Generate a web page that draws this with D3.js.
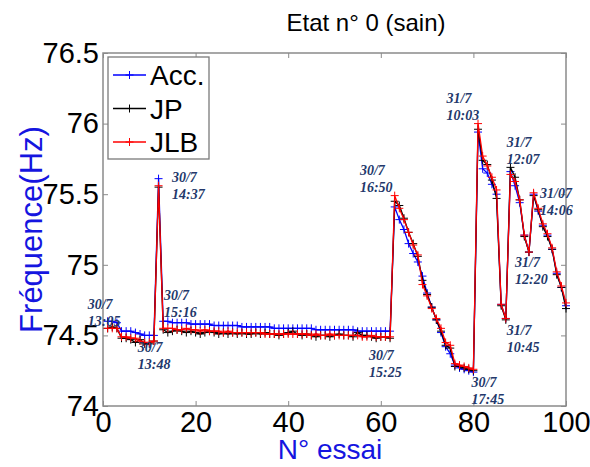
<!DOCTYPE html>
<html><head><meta charset="utf-8">
<script src="https://cdn.jsdelivr.net/npm/d3@7"></script>
<style>body{margin:0;background:#fff}svg{display:block}</style>
</head><body><svg id="c" width="590" height="467"></svg>
<script>
const xTicks = [0, 20, 40, 60, 80, 100];
const yTicks = [74, 74.5, 75, 75.5, 76, 76.5];
const seriesNames = ["Acc.", "JP", "JLB"];
const seriesColors = ["#0000ff", "#000000", "#ff0000"];

const acc = [74.60,74.60,74.59,74.53,74.53,74.53,74.52,74.51,74.50,74.50,74.50,75.61,
74.60,74.60,74.59,74.59,74.59,74.59,74.58,74.58,74.58,74.58,
74.58,74.57,74.57,74.57,74.57,74.57,74.57,74.56,74.56,74.56,
74.56,74.56,74.56,74.56,74.55,74.55,74.55,74.55,74.55,74.55,
74.55,74.55,74.55,74.54,74.54,74.54,74.54,74.54,74.54,74.54,
74.54,74.54,74.53,74.53,74.53,74.53,74.53,74.53,74.53,74.53,
75.41,75.32,75.25,75.15,75.08,75.02,74.92,74.80,74.70,74.61,74.52,74.42,74.37,74.29,74.27,74.26,74.25,74.24,
75.94,75.68,75.65,75.57,75.50,74.72,74.62,75.66,75.56,75.44,75.21,75.09,75.50,75.38,75.28,75.21,75.11,74.94,74.84,74.71];

const jp = [74.55,74.56,74.55,74.48,74.48,74.47,74.45,74.47,74.44,74.44,74.46,75.55,
74.54,74.52,74.53,74.54,74.53,74.52,74.53,74.52,74.51,74.52,
74.53,74.52,74.51,74.52,74.51,74.52,74.51,74.52,74.51,74.51,
74.52,74.51,74.52,74.51,74.51,74.50,74.51,74.52,74.53,74.51,
74.50,74.51,74.50,74.49,74.50,74.50,74.49,74.50,74.51,74.50,
74.50,74.49,74.52,74.50,74.50,74.49,74.48,74.49,74.49,74.48,
75.45,75.42,75.33,75.23,75.15,75.06,74.89,74.79,74.70,74.61,74.53,74.43,74.41,74.28,74.28,74.27,74.26,74.25,
75.96,75.74,75.71,75.60,75.47,74.71,74.61,75.69,75.62,75.46,75.20,75.09,75.49,75.39,75.27,75.20,75.11,74.93,74.84,74.69];

const jlb = [74.55,74.55,74.55,74.49,74.49,74.48,74.48,74.46,74.45,74.45,74.46,75.56,
74.55,74.55,74.55,74.54,74.54,74.55,74.54,74.54,74.53,74.54,
74.53,74.53,74.53,74.52,74.53,74.52,74.52,74.52,74.52,74.52,
74.52,74.52,74.51,74.51,74.51,74.51,74.51,74.51,74.51,74.51,
74.51,74.51,74.50,74.51,74.50,74.50,74.51,74.50,74.50,74.50,
74.50,74.50,74.50,74.49,74.49,74.50,74.49,74.49,74.49,74.49,
75.49,75.40,75.32,75.23,75.14,75.07,74.86,74.78,74.69,74.62,74.55,74.45,74.43,74.30,74.29,74.28,74.27,74.26,
76.00,75.77,75.70,75.62,75.53,74.72,74.62,75.64,75.59,75.46,75.21,75.09,75.51,75.40,75.29,75.22,75.12,74.95,74.85,74.73];

const annotX = [-3.3, 14.9, 13.2, 7.5, 55.5, 57.45, 74.2, 79.6, 87.2, 94.4, 89.0, 87.2];
const annotY = [74.69, 75.586, 74.75, 74.38, 75.636, 74.326, 76.146, 74.135, 75.834, 75.473, 74.984, 74.503];
const annotL1 = ["30/7","30/7","30/7","30/7","30/7","30/7","31/7","30/7","31/7","31/07","31/7","31/7"];
const annotL2 = ["13:05","14:37","15:16","13:48","16:50","15:25","10:03","17:45","12:07","14:06","12:20","10:45"];

const svg = d3.select("#c");
const m = {l:103, t:53, r:566, b:406};
const x = d3.scaleLinear().domain([0,100]).range([m.l, m.r]);
const y = d3.scaleLinear().domain([74,76.5]).range([m.b, m.t]);

svg.append("rect").attr("x",m.l).attr("y",m.t).attr("width",m.r-m.l).attr("height",m.b-m.t)
  .attr("fill","#fff").attr("stroke","#8a8a8a").attr("stroke-width",1.5);

const font = "Liberation Sans, Arial, sans-serif";
function styleAxis(g){
  g.select(".domain").remove();
  g.selectAll(".tick line").attr("stroke","#8a8a8a").attr("stroke-width",1);
  g.selectAll(".tick text").attr("font-family",font).attr("font-size",29).attr("fill","#000");
}
svg.append("g").attr("transform",`translate(0,${m.b})`)
  .call(d3.axisBottom(x).tickValues(xTicks).tickSizeInner(-5).tickSizeOuter(0).tickPadding(5).tickFormat(d3.format("d")))
  .call(styleAxis);
svg.append("g").attr("transform",`translate(0,${m.t})`)
  .call(d3.axisTop(x).tickValues(xTicks).tickSizeInner(-5).tickSizeOuter(0).tickFormat(""))
  .call(styleAxis);
svg.append("g").attr("transform",`translate(${m.l},0)`)
  .call(d3.axisLeft(y).tickValues(yTicks).tickSizeInner(-5).tickSizeOuter(0).tickPadding(4).tickFormat(d=>String(d)))
  .call(styleAxis);
svg.append("g").attr("transform",`translate(${m.r},0)`)
  .call(d3.axisRight(y).tickValues(yTicks).tickSizeInner(-5).tickSizeOuter(0).tickFormat(""))
  .call(styleAxis);

const allSeries = [acc, jp, jlb];
const line = d3.line().x((d,i)=>x(i+1)).y(d=>y(d));
const arm = 4;
allSeries.forEach((s,k)=>{
  const g = svg.append("g");
  g.append("path").datum(s).attr("d",line).attr("fill","none")
    .attr("stroke",seriesColors[k]).attr("stroke-width",1.3);
  g.selectAll("path.mk").data(s).join("path").attr("class","mk")
    .attr("d",(d,i)=>`M${x(i+1)-arm},${y(d)}h${2*arm}M${x(i+1)},${y(d)-arm}v${2*arm}`)
    .attr("stroke",seriesColors[k]).attr("stroke-width",1);
});

const ann = svg.append("g").attr("font-family","Liberation Serif, Times New Roman, serif")
  .attr("font-style","italic").attr("font-weight","bold").attr("font-size",14).attr("fill","#23386b");
annotL1.forEach((t,i)=>{
  const tx = ann.append("text").attr("x",x(annotX[i])).attr("y",y(annotY[i]));
  tx.append("tspan").attr("x",x(annotX[i])).text(t);
  tx.append("tspan").attr("x",x(annotX[i])).attr("dy",17).text(annotL2[i]);
});

// legend
const lg = svg.append("g");
lg.append("rect").attr("x",108).attr("y",57).attr("width",101).attr("height",102)
  .attr("fill","#fff").attr("stroke","#7a7a7a").attr("stroke-width",1.3);
seriesNames.forEach((n,i)=>{
  const ly = 75 + i*33.5;
  lg.append("line").attr("x1",113).attr("x2",146).attr("y1",ly).attr("y2",ly)
    .attr("stroke",seriesColors[i]).attr("stroke-width",1.3);
  lg.append("path").attr("d",`M${129.5-arm},${ly}h${2*arm}M129.5,${ly-arm}v${2*arm}`)
    .attr("stroke",seriesColors[i]).attr("stroke-width",1);
  lg.append("text").attr("x",150).attr("y",ly).attr("dy","0.36em")
    .attr("font-family",font).attr("font-size",28).attr("fill","#000").text(n);
});

svg.append("text").attr("x",366).attr("y",31).attr("text-anchor","middle")
  .attr("font-family",font).attr("font-size",24).attr("fill","#000").text("Etat n° 0 (sain)");
svg.append("text").attr("x",330).attr("y",459).attr("text-anchor","middle")
  .attr("font-family",font).attr("font-size",28).attr("fill","#1515e0").text("N° essai");
svg.append("text").attr("transform",`translate(42,${(m.t+m.b)/2}) rotate(-90)`).attr("text-anchor","middle")
  .attr("font-family",font).attr("font-size",31).attr("fill","#1515e0").text("Fréquence(Hz)");
</script></body></html>
